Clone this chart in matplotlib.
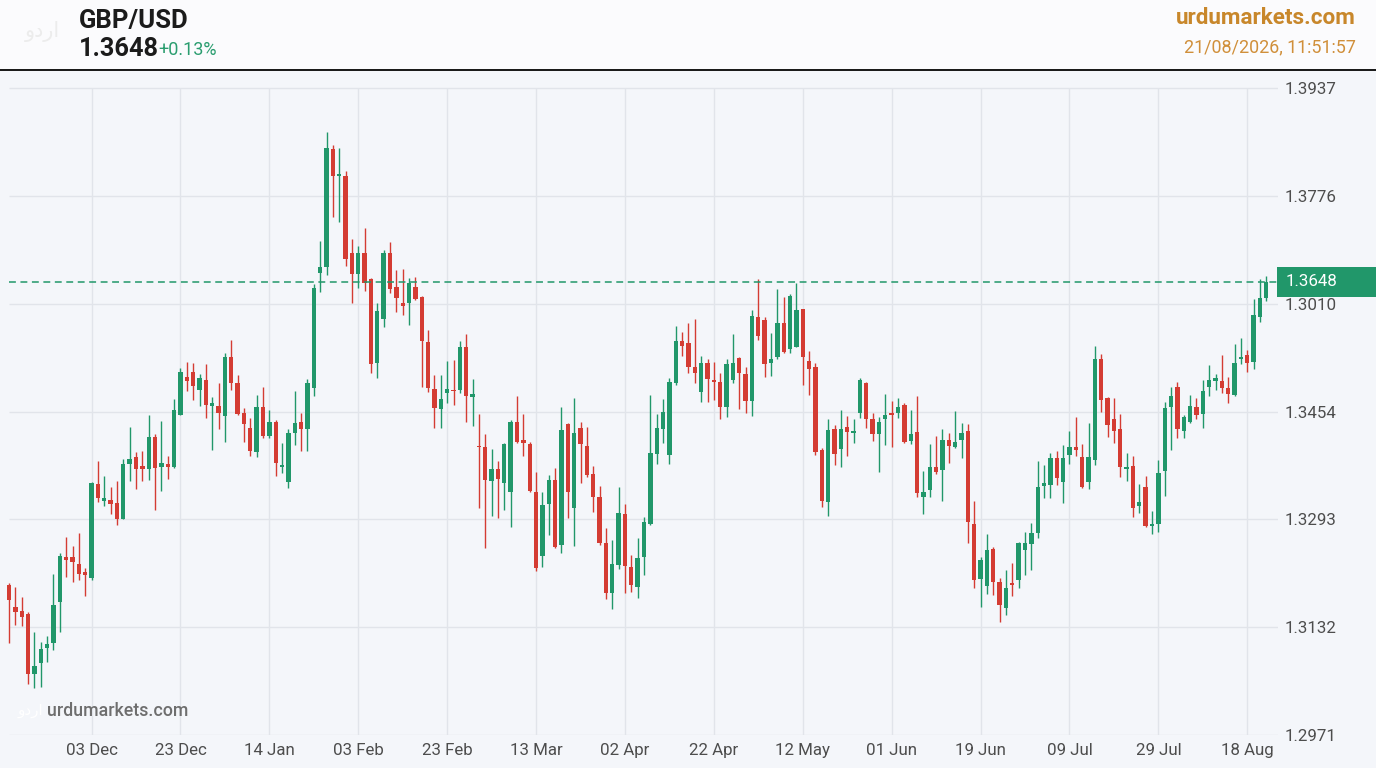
import matplotlib.pyplot as plt
import matplotlib.transforms as mtransforms
from matplotlib.patches import Rectangle
from matplotlib.lines import Line2D
import numpy as np

plt.rcParams['font.family'] = ['Roboto', 'DejaVu Sans']

# daily GBP/USD candles, 14 Nov 2025 .. 21 Aug 2026
opens = [1.3195, 1.3162, 1.3156, 1.3151, 1.3062, 1.3078, 1.3101, 1.3108, 1.3169, 1.3237,
         1.3237, 1.3226, 1.3214, 1.3205, 1.3346, 1.3320, 1.3322, 1.3317, 1.3293, 1.3376,
         1.3386, 1.3373, 1.3368, 1.3416, 1.3371, 1.3376, 1.3371, 1.3449, 1.3506, 1.3513,
         1.3486, 1.3501, 1.3462, 1.3462, 1.3447, 1.3536, 1.3497, 1.3452, 1.3429, 1.3394,
         1.3461, 1.3417, 1.3438, 1.3371, 1.3349, 1.3422, 1.3438, 1.3428, 1.3489, 1.3661,
         1.3670, 1.3847, 1.3806, 1.3806, 1.3691, 1.3660, 1.3691, 1.3652, 1.3527, 1.3592,
         1.3691, 1.3640, 1.3616, 1.3616, 1.3640, 1.3625, 1.3558, 1.3488, 1.3458, 1.3482,
         1.3486, 1.3486, 1.3551, 1.3476, 1.3403, 1.3401, 1.3350, 1.3368, 1.3347, 1.3334,
         1.3438, 1.3412, 1.3406, 1.3334, 1.3238, 1.3316, 1.3352, 1.3255, 1.3436, 1.3310,
         1.3429, 1.3403, 1.3361, 1.3326, 1.3258, 1.3183, 1.3224, 1.3301, 1.3222, 1.3192,
         1.3237, 1.3286, 1.3391, 1.3428, 1.3389, 1.3497, 1.3560, 1.3557, 1.3521, 1.3483,
         1.3527, 1.3501, 1.3498, 1.3461, 1.3501, 1.3534, 1.3510, 1.3470, 1.3595, 1.3591,
         1.3527, 1.3536, 1.3586, 1.3548, 1.3551, 1.3607, 1.3530, 1.3521, 1.3397, 1.3319,
         1.3428, 1.3398, 1.3431, 1.3422, 1.3452, 1.3497, 1.3443, 1.3420, 1.3443, 1.3452,
         1.3452, 1.3464, 1.3410, 1.3424, 1.3326, 1.3337, 1.3371, 1.3367, 1.3412, 1.3401,
         1.3412, 1.3425, 1.3286, 1.3204, 1.3193, 1.3249, 1.3199, 1.3160, 1.3198, 1.3202,
         1.3247, 1.3256, 1.3273, 1.3343, 1.3344, 1.3385, 1.3349, 1.3389, 1.3401, 1.3386,
         1.3349, 1.3382, 1.3533, 1.3474, 1.3443, 1.3428, 1.3368, 1.3373, 1.3313, 1.3341,
         1.3283, 1.3286, 1.3365, 1.3461, 1.3490, 1.3425, 1.3438, 1.3461, 1.3450, 1.3491,
         1.3500, 1.3500, 1.3489, 1.3479, 1.3533, 1.3539, 1.3528, 1.3595, 1.3624]

highs = [1.3198, 1.3192, 1.3177, 1.3154, 1.3125, 1.3110, 1.3119, 1.3211, 1.3243, 1.3267,
         1.3253, 1.3272, 1.3220, 1.3349, 1.3380, 1.3358, 1.3341, 1.3350, 1.3383, 1.3431,
         1.3394, 1.3395, 1.3449, 1.3420, 1.3440, 1.3388, 1.3473, 1.3519, 1.3528, 1.3527,
         1.3510, 1.3525, 1.3476, 1.3497, 1.3542, 1.3561, 1.3509, 1.3459, 1.3444, 1.3479,
         1.3490, 1.3456, 1.3441, 1.3407, 1.3428, 1.3485, 1.3452, 1.3503, 1.3645, 1.3709,
         1.3872, 1.3853, 1.3848, 1.3814, 1.3712, 1.3702, 1.3729, 1.3654, 1.3616, 1.3696,
         1.3708, 1.3666, 1.3667, 1.3654, 1.3655, 1.3627, 1.3576, 1.3509, 1.3509, 1.3530,
         1.3531, 1.3560, 1.3570, 1.3503, 1.3450, 1.3420, 1.3398, 1.3380, 1.3407, 1.3441,
         1.3477, 1.3450, 1.3409, 1.3364, 1.3334, 1.3359, 1.3370, 1.3461, 1.3437, 1.3474,
         1.3438, 1.3431, 1.3373, 1.3343, 1.3280, 1.3262, 1.3341, 1.3316, 1.3240, 1.3265,
         1.3297, 1.3479, 1.3450, 1.3473, 1.3504, 1.3582, 1.3573, 1.3586, 1.3592, 1.3537,
         1.3533, 1.3528, 1.3512, 1.3533, 1.3570, 1.3536, 1.3521, 1.3606, 1.3652, 1.3595,
         1.3571, 1.3637, 1.3625, 1.3630, 1.3646, 1.3607, 1.3545, 1.3527, 1.3400, 1.3443,
         1.3434, 1.3456, 1.3447, 1.3443, 1.3504, 1.3498, 1.3452, 1.3446, 1.3480, 1.3470,
         1.3474, 1.3467, 1.3456, 1.3477, 1.3365, 1.3406, 1.3417, 1.3428, 1.3422, 1.3455,
         1.3437, 1.3435, 1.3320, 1.3237, 1.3271, 1.3252, 1.3205, 1.3217, 1.3228, 1.3259,
         1.3274, 1.3288, 1.3380, 1.3374, 1.3392, 1.3395, 1.3404, 1.3425, 1.3446, 1.3406,
         1.3437, 1.3552, 1.3540, 1.3476, 1.3474, 1.3450, 1.3392, 1.3388, 1.3346, 1.3358,
         1.3305, 1.3382, 1.3468, 1.3490, 1.3498, 1.3449, 1.3479, 1.3474, 1.3501, 1.3524,
         1.3510, 1.3539, 1.3506, 1.3555, 1.3564, 1.3546, 1.3622, 1.3652, 1.3656]

lows = [1.3108, 1.3135, 1.3134, 1.3047, 1.3041, 1.3042, 1.3080, 1.3098, 1.3125, 1.3207,
        1.3199, 1.3202, 1.3178, 1.3202, 1.3319, 1.3313, 1.3301, 1.3284, 1.3293, 1.3350,
        1.3338, 1.3350, 1.3352, 1.3307, 1.3335, 1.3353, 1.3370, 1.3449, 1.3485, 1.3471,
        1.3462, 1.3444, 1.3397, 1.3428, 1.3409, 1.3486, 1.3449, 1.3409, 1.3388, 1.3386,
        1.3414, 1.3414, 1.3358, 1.3362, 1.3340, 1.3404, 1.3395, 1.3395, 1.3477, 1.3633,
        1.3658, 1.3745, 1.3737, 1.3672, 1.3616, 1.3639, 1.3634, 1.3511, 1.3504, 1.3580,
        1.3631, 1.3603, 1.3598, 1.3583, 1.3621, 1.3491, 1.3483, 1.3429, 1.3429, 1.3467,
        1.3464, 1.3482, 1.3438, 1.3432, 1.3310, 1.3250, 1.3298, 1.3295, 1.3307, 1.3281,
        1.3407, 1.3388, 1.3334, 1.3216, 1.3222, 1.3270, 1.3250, 1.3243, 1.3295, 1.3253,
        1.3347, 1.3356, 1.3304, 1.3255, 1.3174, 1.3159, 1.3219, 1.3183, 1.3184, 1.3175,
        1.3210, 1.3284, 1.3376, 1.3407, 1.3376, 1.3494, 1.3537, 1.3511, 1.3497, 1.3468,
        1.3468, 1.3471, 1.3443, 1.3446, 1.3497, 1.3458, 1.3452, 1.3447, 1.3561, 1.3506,
        1.3507, 1.3533, 1.3542, 1.3542, 1.3551, 1.3494, 1.3479, 1.3389, 1.3311, 1.3298,
        1.3374, 1.3371, 1.3388, 1.3407, 1.3444, 1.3429, 1.3410, 1.3364, 1.3404, 1.3401,
        1.3444, 1.3407, 1.3405, 1.3326, 1.3301, 1.3326, 1.3361, 1.3320, 1.3377, 1.3400,
        1.3385, 1.3258, 1.3190, 1.3162, 1.3181, 1.3180, 1.3139, 1.3150, 1.3178, 1.3190,
        1.3210, 1.3217, 1.3265, 1.3325, 1.3325, 1.3344, 1.3317, 1.3376, 1.3388, 1.3340,
        1.3338, 1.3374, 1.3453, 1.3416, 1.3407, 1.3356, 1.3350, 1.3297, 1.3302, 1.3281,
        1.3271, 1.3274, 1.3328, 1.3397, 1.3414, 1.3414, 1.3437, 1.3443, 1.3429, 1.3477,
        1.3486, 1.3482, 1.3467, 1.3477, 1.3525, 1.3513, 1.3518, 1.3588, 1.3619]

closes = [1.3172, 1.3154, 1.3147, 1.3062, 1.3074, 1.3099, 1.3107, 1.3165, 1.3238, 1.3232,
          1.3229, 1.3211, 1.3210, 1.3347, 1.3325, 1.3325, 1.3316, 1.3293, 1.3376, 1.3383,
          1.3368, 1.3368, 1.3416, 1.3370, 1.3377, 1.3371, 1.3456, 1.3513, 1.3500, 1.3492,
          1.3504, 1.3464, 1.3467, 1.3452, 1.3536, 1.3497, 1.3450, 1.3436, 1.3395, 1.3461,
          1.3417, 1.3438, 1.3377, 1.3374, 1.3422, 1.3437, 1.3428, 1.3497, 1.3639, 1.3670,
          1.3848, 1.3806, 1.3809, 1.3682, 1.3660, 1.3691, 1.3646, 1.3525, 1.3604, 1.3691,
          1.3637, 1.3624, 1.3612, 1.3646, 1.3622, 1.3560, 1.3489, 1.3459, 1.3473, 1.3488,
          1.3485, 1.3551, 1.3477, 1.3480, 1.3401, 1.3352, 1.3368, 1.3353, 1.3406, 1.3438,
          1.3409, 1.3407, 1.3335, 1.3220, 1.3314, 1.3352, 1.3252, 1.3427, 1.3334, 1.3422,
          1.3406, 1.3359, 1.3326, 1.3258, 1.3183, 1.3226, 1.3302, 1.3223, 1.3195, 1.3235,
          1.3289, 1.3392, 1.3429, 1.3453, 1.3498, 1.3560, 1.3552, 1.3521, 1.3511, 1.3527,
          1.3503, 1.3498, 1.3461, 1.3525, 1.3527, 1.3512, 1.3470, 1.3597, 1.3567, 1.3525,
          1.3533, 1.3586, 1.3543, 1.3627, 1.3606, 1.3536, 1.3518, 1.3394, 1.3320, 1.3427,
          1.3391, 1.3428, 1.3424, 1.3425, 1.3501, 1.3443, 1.3420, 1.3438, 1.3449, 1.3449,
          1.3461, 1.3409, 1.3420, 1.3332, 1.3334, 1.3371, 1.3364, 1.3412, 1.3403, 1.3409,
          1.3422, 1.3289, 1.3202, 1.3232, 1.3247, 1.3199, 1.3165, 1.3190, 1.3195, 1.3258,
          1.3258, 1.3273, 1.3341, 1.3347, 1.3385, 1.3355, 1.3385, 1.3401, 1.3397, 1.3341,
          1.3386, 1.3533, 1.3471, 1.3434, 1.3425, 1.3371, 1.3371, 1.3310, 1.3319, 1.3283,
          1.3286, 1.3362, 1.3459, 1.3477, 1.3428, 1.3446, 1.3462, 1.3449, 1.3485, 1.3501,
          1.3504, 1.3489, 1.3480, 1.3527, 1.3536, 1.3527, 1.3598, 1.3624, 1.3648]

date_labels = ["03 Dec", "23 Dec", "14 Jan", "03 Feb", "23 Feb", "13 Mar", "02 Apr",
               "22 Apr", "12 May", "01 Jun", "19 Jun", "09 Jul", "29 Jul", "18 Aug"]
date_idx = [13, 27, 41, 55, 69, 83, 97, 111, 125, 139, 153, 167, 181, 195]

price_ticks = [1.3937, 1.3776, 1.3615, 1.3454, 1.3293, 1.3132, 1.2971]
price_labels = ["1.3937", "1.3776", "1.3010", "1.3454", "1.3293", "1.3132", "1.2971"]

last_price = 1.3648
change_txt = "+0.13%"
stamp = "21/08/2026, 11:51:57"

GREEN = '#21976a'
RED = '#d43c33'
BG = '#f4f6fa'
GRID = '#e1e4ea'

W, H = 1376, 768
fig = plt.figure(figsize=(W / 100, H / 100), dpi=100)
fig.patch.set_facecolor(BG)

# header strip + dark rule under it
fig.patches.append(Rectangle((0, 1 - 70 / H), 1, 70 / H, transform=fig.transFigure,
                             facecolor='#fbfbfd', edgecolor='none', zorder=0))
fig.add_artist(Line2D([0, 1], [1 - 70 / H] * 2, transform=fig.transFigure,
                      color='#151515', lw=1.4))

ax = fig.add_axes([0, 1 - 735 / H, 1278 / W, 665 / H])
ax.set_facecolor(BG)
step = 6.35
ax.set_xlim(-9 / step, (1278 - 9) / step)
y_bot, y_top = 1.29705, 1.39646
ax.set_ylim(y_bot, y_top)
for s in ax.spines.values():
    s.set_visible(False)

xmax = ax.get_xlim()[1]
ax.hlines(price_ticks, 0, xmax, colors=GRID, lw=1.0, zorder=1)
ax.vlines(date_idx, y_bot, price_ticks[0], colors=GRID, lw=1.0, zorder=1)

o = np.array(opens)
h = np.array(highs)
l = np.array(lows)
c = np.array(closes)
x = np.arange(len(o))
cols = np.where(c >= o, GREEN, RED)
ax.vlines(x, l, h, colors=cols, lw=1.0, zorder=3)
ax.bar(x, np.maximum(np.abs(c - o), 0.00018), bottom=np.minimum(o, c), width=0.68,
       color=cols, linewidth=0, zorder=4)

ax.hlines(last_price, 0, xmax, colors=GREEN, lw=1.1, linestyles=(0, (4.5, 3)), zorder=5)

ax.set_xticks(date_idx, date_labels)
ax.yaxis.tick_right()
ax.set_yticks(price_ticks, price_labels)
ax.tick_params(axis='both', length=0, labelsize=12.2, colors='#4d4d4d')
ax.tick_params(axis='x', pad=6)
ax.tick_params(axis='y', pad=5)

# price tag on the right edge
blend = mtransforms.blended_transform_factory(fig.transFigure, ax.transData)
tag_h = 30 * (y_top - y_bot) / 665
ax.add_patch(Rectangle((1277 / W, last_price - tag_h / 2), 99 / W, tag_h, transform=blend,
                       facecolor=GREEN, edgecolor='none', clip_on=False, zorder=10))
ax.text(1286 / W, last_price, f"{last_price:.4f}", transform=blend, color='white',
        fontsize=12.2, va='center', ha='left', zorder=11, clip_on=False)

# header texts
fig.text(25 / W, 1 - 32 / H, 'اردو'[::-1], family='DejaVu Sans', fontsize=15,
         color='#ececec', va='center')
fig.text(79 / W, 1 - 21 / H, 'GBP/USD', fontsize=18.5, fontweight='bold',
         color='#1b1b1b', va='center')
fig.text(79 / W, 1 - 49 / H, f"{last_price:.4f}", fontsize=18.3, fontweight='bold',
         color='#1b1b1b', va='center')
fig.text(158 / W, 1 - 50 / H, change_txt, fontsize=13, color='#2a9d6f', va='center')
fig.text(1356 / W, 1 - 18 / H, 'urdumarkets.com', fontsize=16.2, fontweight='bold',
         color='#c8872b', ha='right', va='center')
fig.text(1356 / W, 1 - 47 / H, stamp, fontsize=12.9, color='#d08f3a',
         ha='right', va='center')

# watermark bottom-left
fig.text(18 / W, 1 - 711 / H, 'اردو'[::-1], family='DejaVu Sans', fontsize=11,
         color='#ffffff', va='center')
fig.text(47 / W, 1 - 711 / H, 'urdumarkets.com', fontsize=12.8, fontweight='medium',
         color='#6e6e6e', va='center')

fig.savefig('out.png', dpi=100, facecolor=fig.get_facecolor())
